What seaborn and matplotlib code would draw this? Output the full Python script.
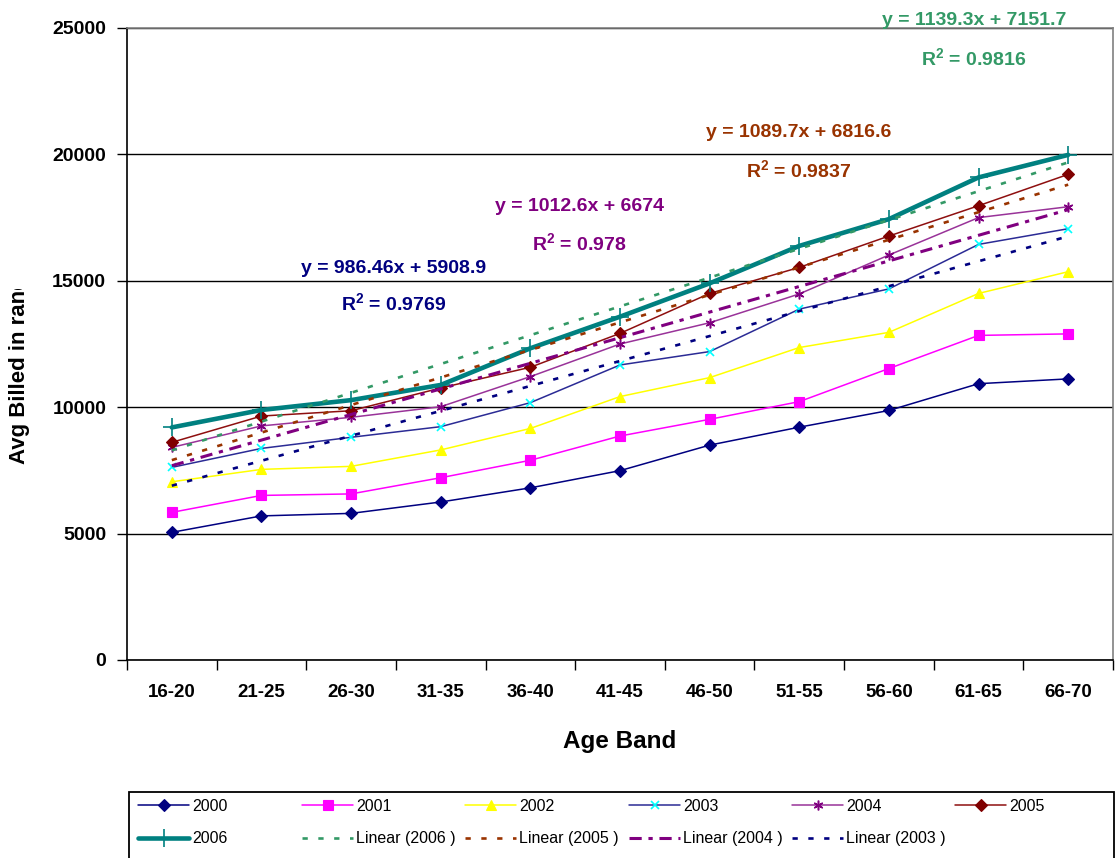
#!/usr/bin/env python3
"""Average billed amount per age band, 2000-2006, with linear trend lines."""

import matplotlib

matplotlib.use("Agg")
import matplotlib.pyplot as plt
import numpy as np
import pandas as pd
import seaborn as sns
from matplotlib.patches import Rectangle
from matplotlib.transforms import Bbox, TransformedBbox

# ---- data ----
AGE_BANDS = ["16-20", "21-25", "26-30", "31-35", "36-40", "41-45",
             "46-50", "51-55", "56-60", "61-65", "66-70"]
YEARS = ["2000", "2001", "2002", "2003", "2004", "2005", "2006"]

avg_2000 = [5050, 5700, 5800, 6250, 6810, 7490, 8500, 9210, 9870, 10930, 11120]
avg_2001 = [5840, 6510, 6570, 7210, 7900, 8860, 9520, 10220, 11530, 12840, 12900]
avg_2002 = [7050, 7540, 7660, 8310, 9160, 10420, 11170, 12360, 12960, 14500, 15360]
avg_2003 = [7620, 8370, 8810, 9230, 10180, 11670, 12200, 13880, 14680, 16440, 17060]
avg_2004 = [8410, 9260, 9600, 10020, 11210, 12500, 13340, 14480, 16020, 17500, 17930]
avg_2005 = [8610, 9650, 9860, 10760, 11580, 12920, 14500, 15530, 16770, 17970, 19210]
avg_2006 = [9200, 9890, 10280, 10880, 12330, 13580, 14900, 16380, 17440, 19090, 19980]

# linear trend lines printed on the chart (x = 1..11)
TREND_YEARS = ["2006", "2005", "2004", "2003"]
TREND_SLOPE = [1139.3, 1089.7, 1012.6, 986.46]
TREND_INTERCEPT = [7151.7, 6816.6, 6674, 5908.9]
TREND_R2 = [0.9816, 0.9837, 0.978, 0.9769]

# ---- styles ----
SERIES_STYLE = {
    "2000": dict(color="#000080", lw=1.1, marker="D", ms=6.5, mfc="#000080", mec="#000080", mew=0.8),
    "2001": dict(color="#FF00FF", lw=1.1, marker="s", ms=6.5, mfc="#FF00FF", mec="#FF00FF", mew=0.8),
    "2002": dict(color="#FFFF00", lw=1.1, marker="^", ms=7.5, mfc="#FFFF00", mec="#FFFF00", mew=0.8),
    "2003": dict(color="#2B2B95", lw=1.1, marker="x", ms=6, mfc="#00FFFF", mec="#00FFFF", mew=1.2),
    "2004": dict(color="#993399", lw=1.1, marker=(6, 2, 0), ms=7, mfc="#800080", mec="#800080", mew=1.1),
    "2005": dict(color="#8E0F0F", lw=1.1, marker="D", ms=6.5, mfc="#800000", mec="#800000", mew=0.8),
    "2006": dict(color="#008080", lw=3.3, marker="+", ms=13, mfc="#008080", mec="#008080", mew=1.2),
}
TREND_STYLE = {
    "2006": dict(color="#339966", lw=1.9, ls=(0, (2, 4))),
    "2005": dict(color="#993300", lw=1.9, ls=(0, (2, 4))),
    "2004": dict(color="#800080", lw=2.2, ls=(0, (4, 2.2, 1.4, 2.2))),
    "2003": dict(color="#000080", lw=1.9, ls=(0, (2, 4))),
}
# label centres (x in category units, y in data units)
TREND_LABEL_POS = {
    "2006": ((9.95, 25277), (9.95, 23813)),
    "2005": ((7.99, 20847), (7.99, 19383)),
    "2004": ((5.55, 17920), (5.55, 16495)),
    "2003": ((3.47, 15506), (3.47, 14122)),
}

W, H = 1118, 858

sns.set_theme(style="white")
plt.rcParams["font.family"] = ["Liberation Sans", "DejaVu Sans"]
plt.rcParams["mathtext.default"] = "regular"
plt.rcParams["text.color"] = "black"
plt.rcParams["axes.labelcolor"] = "black"
plt.rcParams["xtick.color"] = "black"
plt.rcParams["ytick.color"] = "black"

positions = np.arange(1, len(AGE_BANDS) + 1)
wide = pd.DataFrame({
    "band": AGE_BANDS, "x": positions,
    "2000": avg_2000, "2001": avg_2001, "2002": avg_2002, "2003": avg_2003,
    "2004": avg_2004, "2005": avg_2005, "2006": avg_2006,
})
long = wide.melt(id_vars=["band", "x"], var_name="year", value_name="avg")

fig = plt.figure(figsize=(W / 100, H / 100), dpi=100)
fig.patch.set_facecolor("white")
ax = fig.add_axes([127 / W, 1 - 660 / H, (1113 - 127) / W, (660 - 28) / H])

handles = {}
for year in YEARS:
    st = SERIES_STYLE[year]
    sns.lineplot(
        data=long[long["year"] == year], x="x", y="avg",
        color=st["color"], linewidth=st["lw"], marker=st["marker"],
        markersize=st["ms"], markerfacecolor=st["mfc"],
        markeredgecolor=st["mec"], markeredgewidth=st["mew"],
        errorbar=None, legend=False, ax=ax, zorder=3,
    )
    handles[year] = (ax.lines[-1], year)

for year, slope, icpt, r2 in zip(TREND_YEARS, TREND_SLOPE, TREND_INTERCEPT, TREND_R2):
    st = TREND_STYLE[year]
    trend = pd.DataFrame({"x": positions, "fit": slope * positions + icpt})
    sns.lineplot(data=trend, x="x", y="fit", color=st["color"], linewidth=st["lw"],
                 linestyle=st["ls"], errorbar=None, legend=False, ax=ax, zorder=4)
    ax.lines[-1].set_dash_capstyle("butt")
    handles["lin" + year] = (ax.lines[-1], f"Linear ({year} )")

    (ex, ey), (rx, ry) = TREND_LABEL_POS[year]
    ax.text(ex, ey, f"y = {slope:g}x + {icpt:g}", color=st["color"],
            fontsize=14, fontweight="bold", ha="center", va="center", zorder=5)
    ax.text(rx, ry, f"R$^{{2}}$ = {r2:g}", color=st["color"],
            fontsize=14, fontweight="bold", ha="center", va="center", zorder=5)

# axes
ax.set_xlim(0.5, len(AGE_BANDS) + 0.5)
ax.set_ylim(0, 25000)
ax.set_yticks(range(0, 25001, 5000))
ax.set_yticklabels([str(v) for v in range(0, 25001, 5000)], fontsize=14, fontweight="bold")
ax.set_xticks(positions)
ax.set_xticklabels(AGE_BANDS, fontsize=13.5, fontweight="bold")
ax.set_xticks(np.arange(0.5, len(AGE_BANDS) + 1, 1.0), minor=True)
ax.tick_params(axis="x", which="major", length=0, pad=17, colors="black")
ax.tick_params(axis="x", which="minor", length=7, width=1, color="black", direction="out", bottom=True)
ax.tick_params(axis="y", which="major", length=7, width=1, color="black", direction="out", pad=8, left=True)

ax.yaxis.grid(True, color="black", linewidth=1.0)
ax.xaxis.grid(False)
ax.set_axisbelow(True)
for side in ("left", "bottom"):
    ax.spines[side].set_color("black")
    ax.spines[side].set_linewidth(1.2)
for side in ("top", "right"):
    ax.spines[side].set_color("#808080")
    ax.spines[side].set_linewidth(1.2)

ax.set_xlabel("Age Band", fontsize=17.5, fontweight="bold")
ax.xaxis.set_label_coords(0.5, -0.1108)
ax.set_ylabel("Avg Billed in rand", fontsize=16, fontweight="bold")
ax.yaxis.set_label_coords(-0.0984, 0.458)
# the original label is cut off at the top
ylab = ax.yaxis.label
ylab.set_clip_box(TransformedBbox(Bbox.from_extents(0, 0, 1, 1 - 289 / H), fig.transFigure))
ylab.set_clip_on(True)

# legend: six fixed-width columns inside one box
legend_cols = [
    ["2000", "2006"], ["2001", "lin2006"], ["2002", "lin2005"],
    ["2003", "lin2004"], ["2004", "lin2003"], ["2005"],
]
col_x = [138, 302, 465, 629, 792, 955]
for keys, x0 in zip(legend_cols, col_x):
    leg = fig.legend(
        [handles[k][0] for k in keys], [handles[k][1] for k in keys],
        loc="upper left", bbox_to_anchor=(x0 / W, 1 - 799 / H),
        frameon=False, borderpad=0, borderaxespad=0, fontsize=11.5,
        handlelength=3.2, handletextpad=0.2, labelspacing=1.07, numpoints=1,
    )
fig.add_artist(Rectangle((129 / W, -0.02), (1114 - 129) / W, 1 - 792 / H + 0.02,
                         transform=fig.transFigure, fill=False,
                         edgecolor="black", linewidth=1.3))

fig.savefig("out.png", dpi=100)
